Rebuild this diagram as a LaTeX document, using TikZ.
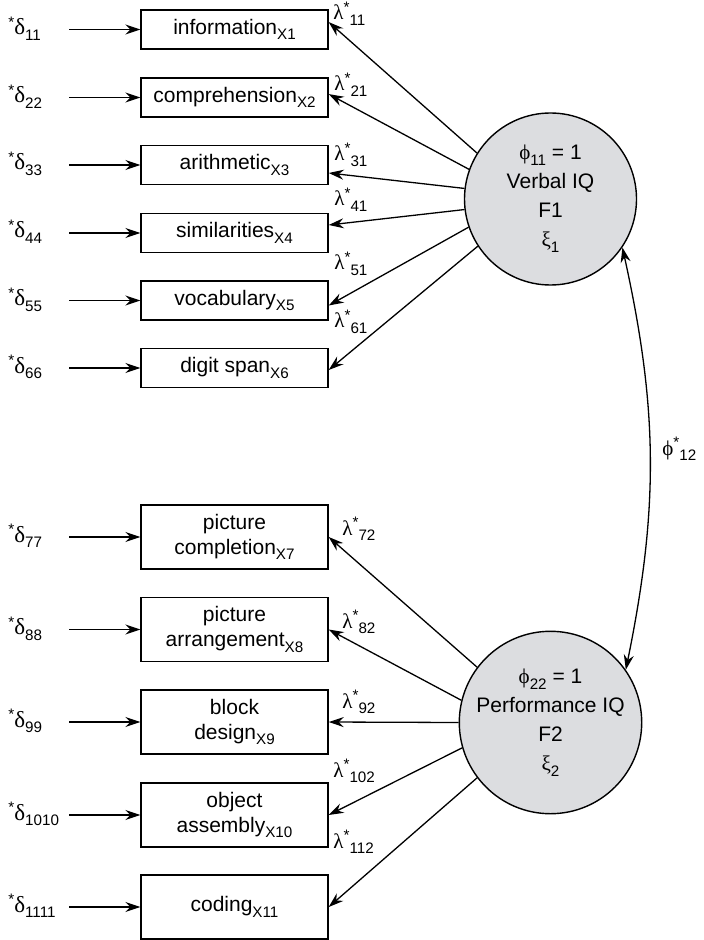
\documentclass[tikz,border=0pt]{standalone}
\usepackage{fontspec}
\setmainfont{Liberation Sans}
\newfontfamily\greek{Liberation Serif}
\usetikzlibrary{arrows.meta}

\definecolor{latgray}{RGB}{220,221,224}
% lowered and raised indices
\newcommand{\lo}[1]{\raisebox{-0.27em}{\fontsize{7.6}{8}\selectfont #1}}
\newcommand{\hi}[1]{\raisebox{0.34em}{\fontsize{7.6}{8}\selectfont #1}}
% error term label
\newcommand{\err}[1]{\hi{*}{\greek\fontsize{11.5}{12.5}\selectfont δ}\lo{#1}}

\begin{document}
\begin{tikzpicture}[x=0.5pt, y=-0.5pt, font=\fontsize{10.5}{12.5}\selectfont,
    obs/.style={draw, line width=0.7pt, minimum width=93.5pt, minimum height=19.5pt, inner sep=0pt, align=center},
    obstall/.style={obs, minimum height=32pt},
    latent/.style={draw, circle, fill=latgray, line width=0.7pt, minimum size=86pt, inner sep=0pt, align=center, font=\fontsize{10.5}{14.5}\selectfont},
    lbl/.style={inner sep=0pt, anchor=base west},
    load/.style={-{Stealth[length=7.5pt,width=5pt,inset=2.5pt]}, line width=0.65pt}]
  \useasboundingbox (0,0) rectangle (703,940);

  % verbal subtests
  \node[obs] (x1) at (234.5,29.5) {information\lo{X1}};
  \node[obs] (x2) at (234.5,97.5) {comprehension\lo{X2}};
  \node[obs] (x3) at (234.5,165) {arithmetic\lo{X3}};
  \node[obs] (x4) at (234.5,233) {similarities\lo{X4}};
  \node[obs] (x5) at (234.5,300.5) {vocabulary\lo{X5}};
  \node[obs] (x6) at (234.5,368) {digit span\lo{X6}};

  % performance subtests
  \node[obstall] (x7) at (234.5,537) {picture\\completion\lo{X7}};
  \node[obstall] (x8) at (234.5,629.5) {picture\\arrangement\lo{X8}};
  \node[obstall] (x9) at (234.5,722) {block\\design\lo{X9}};
  \node[obstall] (x10) at (234.5,815) {object\\assembly\lo{X10}};
  \node[obstall] (x11) at (234.5,907) {coding\lo{X11}};

  % factors
  \node[latent] (F1) at (550.5,199) {{\greek ϕ}\lo{11}\ = 1\\Verbal IQ\\F1\\{\greek ξ}\lo{1}};
  \node[latent] (F2) at (550.5,722.5) {{\greek ϕ}\lo{22}\ = 1\\Performance IQ\\F2\\{\greek ξ}\lo{2}};

  % errors
  \node[lbl] (d1) at (8,34.5) {\err{11}};
  \node[lbl] (d2) at (8,102.5) {\err{22}};
  \node[lbl] (d3) at (8,170) {\err{33}};
  \node[lbl] (d4) at (8,238) {\err{44}};
  \node[lbl] (d5) at (8,305.5) {\err{55}};
  \node[lbl] (d6) at (8,373) {\err{66}};
  \node[lbl] (d7) at (8,542) {\err{77}};
  \node[lbl] (d8) at (8,634.5) {\err{88}};
  \node[lbl] (d9) at (8,727) {\err{99}};
  \node[lbl] (d10) at (8,820) {\err{1010}};
  \node[lbl] (d11) at (8,912) {\err{1111}};

  \coordinate (e1) at (69,29.5);
  \coordinate (e2) at (69,97.5);
  \coordinate (e3) at (69,165);
  \coordinate (e4) at (69,233);
  \coordinate (e5) at (69,300.5);
  \coordinate (e6) at (69,368);
  \coordinate (e7) at (69,537);
  \coordinate (e8) at (69,629.5);
  \coordinate (e9) at (69,722);
  \coordinate (e10) at (69,815);
  \coordinate (e11) at (69,907);
  \foreach \i in {1,...,11}
    \draw[load] (e\i) -- (x\i.west);

  % loadings
  \draw[load] (F1.148) -- ([yshift=3.7pt]x1.east);
  \draw[load] (F1.160.5) -- ([yshift=1.7pt]x2.east);
  \draw[load] (F1.173) -- ([yshift=-4pt]x3.east);
  \draw[load] (F1.187) -- ([yshift=4pt]x4.east);
  \draw[load] (F1.199) -- ([yshift=-2.5pt]x5.east);
  \draw[load] (F1.213) -- ([yshift=-1pt]x6.east);
  \draw[load] (F2.143) -- (x7.east);
  \draw[load] (F2.166) -- (x8.east);
  \draw[load] (F2.180) -- (x9.east);
  \draw[load] (F2.196) -- (x10.east);
  \draw[load] (F2.217) -- (x11.east);

  \node[lbl] (l1) at (333,20) {{\greek λ}\hi{*}\lo{11}};
  \node[lbl] (l2) at (334,91) {{\greek λ}\hi{*}\lo{21}};
  \node[lbl] (l3) at (334,161) {{\greek λ}\hi{*}\lo{31}};
  \node[lbl] (l4) at (334,206) {{\greek λ}\hi{*}\lo{41}};
  \node[lbl] (l5) at (334,270) {{\greek λ}\hi{*}\lo{51}};
  \node[lbl] (l6) at (334,328) {{\greek λ}\hi{*}\lo{61}};
  \node[lbl] (l7) at (342,535) {{\greek λ}\hi{*}\lo{72}};
  \node[lbl] (l8) at (342,628) {{\greek λ}\hi{*}\lo{82}};
  \node[lbl] (l9) at (342,708) {{\greek λ}\hi{*}\lo{92}};
  \node[lbl] (l10) at (333,777) {{\greek λ}\hi{*}\lo{102}};
  \node[lbl] (l11) at (333,848) {{\greek λ}\hi{*}\lo{112}};

  % factor covariance
  \draw[{Stealth[length=7.5pt,width=5pt,inset=2.5pt]}-{Stealth[length=7.5pt,width=5pt,inset=2.5pt]}, line width=0.65pt]
    (F1.-34) to[bend left=12] (F2.35);
  \node[lbl] (phi) at (662,455) {{\greek ϕ}\hi{*}\lo{12}};
\end{tikzpicture}
\end{document}
